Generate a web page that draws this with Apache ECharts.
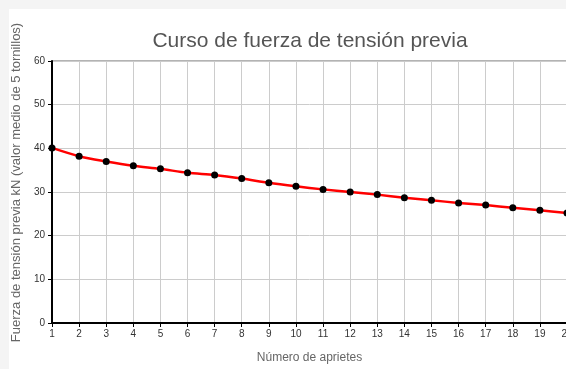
<!DOCTYPE html>
<html>
<head>
<meta charset="utf-8">
<script src="https://cdn.jsdelivr.net/npm/echarts@6/dist/echarts.min.js"></script>
<style>
  html, body { margin: 0; padding: 0; background: #f4f4f4; overflow: hidden; }
  #main { width: 620px; height: 369px; }
</style>
</head>
<body>
<div id="main"></div>
<script>
// number of tightenings 1..20
var aprietes = [1, 2, 3, 4, 5, 6, 7, 8, 9, 10, 11, 12, 13, 14, 15, 16, 17, 18, 19, 20];
// preload kN, mean of 5 bolts
var fuerza = [40.1, 38.2, 37.0, 36.0, 35.3, 34.4, 33.9, 33.1, 32.1, 31.3, 30.6, 30.0, 29.4, 28.7, 28.1, 27.5, 27.0, 26.4, 25.8, 25.2];
var yTicks = [0, 10, 20, 30, 40, 50, 60];

var puntos = [];
for (var i = 0; i < aprietes.length; i++) {
    puntos.push([aprietes[i], fuerza[i]]);
}

var myChart = echarts.init(document.getElementById('main'));
var font = 'Liberation Sans, Arial, sans-serif';

var option = {
    backgroundColor: '#f4f4f4',
    animation: false,
    graphic: [
        { type: 'rect', left: 9, top: 9, shape: { width: 700, height: 400 }, style: { fill: '#ffffff' }, z: -10 }
    ],
    title: {
        text: 'Curso de fuerza de tensión previa',
        left: 305,
        top: 26,
        textAlign: 'center',
        textStyle: { fontFamily: font, fontSize: 21, fontWeight: 'normal', color: '#555555' }
    },
    grid: {
        left: 52,
        top: 61,
        width: 515,
        height: 263,
        show: true,
        borderColor: '#666666',
        borderWidth: 1,
        backgroundColor: 'transparent'
    },
    xAxis: {
        type: 'value',
        min: 1,
        max: 20,
        interval: 1,
        name: 'Número de aprietes',
        nameLocation: 'middle',
        nameGap: 29,
        nameTextStyle: { fontFamily: font, fontSize: 12, color: '#666666' },
        axisLine: { show: true, lineStyle: { color: '#000000', width: 2 } },
        axisTick: { show: true, length: 4, lineStyle: { color: '#000000' } },
        axisLabel: { fontFamily: font, fontSize: 10, color: '#333333', margin: 6, showMaxLabel: true },
        splitLine: { show: true, lineStyle: { color: '#cccccc', width: 1 } }
    },
    yAxis: {
        type: 'value',
        min: yTicks[0],
        max: yTicks[yTicks.length - 1],
        interval: 10,
        name: 'Fuerza de tensión previa kN (valor medio de 5 tornillos)',
        nameLocation: 'middle',
        nameGap: 27,
        nameTextStyle: { fontFamily: font, fontSize: 13, color: '#666666', padding: [0, 0, 0, 19] },
        axisLine: { show: true, lineStyle: { color: '#000000', width: 2 } },
        axisTick: { show: true, length: 4, lineStyle: { color: '#000000' } },
        axisLabel: { fontFamily: font, fontSize: 10, color: '#333333', margin: 7 },
        splitLine: { show: true, lineStyle: { color: '#cccccc', width: 1 } }
    },
    series: [
        {
            type: 'line',
            data: puntos,
            smooth: 0.3,
            symbol: 'circle',
            symbolSize: 7,
            clip: false,
            lineStyle: { color: '#ff0000', width: 2.5 },
            itemStyle: { color: '#000000' }
        }
    ]
};

myChart.setOption(option);
</script>
</body>
</html>
